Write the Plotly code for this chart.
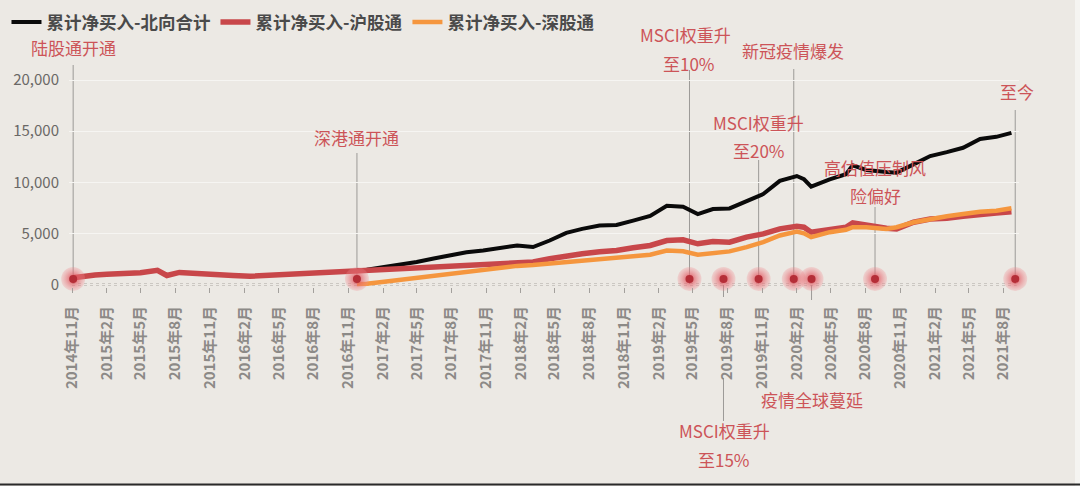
import plotly.graph_objects as go

# ---------------- data (亿元) ----------------
dates_early = ["2014-11-04", "2014-12-01", "2015-01-01", "2015-02-01", "2015-03-25",
               "2015-05-01", "2015-06-15", "2015-07-10", "2015-08-12", "2015-10-01",
               "2015-11-15", "2016-01-01", "2016-02-15", "2016-04-01", "2016-06-01",
               "2016-08-01", "2016-09-15", "2016-11-07"]
sh_early = [650, 820, 930, 1000, 1060, 1150, 1390, 880, 1180, 1120,
            1000, 880, 800, 880, 1000, 1200, 1290, 1360]

dates_late = ["2016-11-24", "2016-12-20", "2017-02-04", "2017-03-20", "2017-05-01",
              "2017-06-15", "2017-07-28", "2017-09-10", "2017-10-24", "2017-12-05",
              "2018-01-22", "2018-03-05", "2018-04-18", "2018-06-01", "2018-07-13",
              "2018-08-28", "2018-10-12", "2018-11-25", "2019-01-09", "2019-02-22",
              "2019-04-06", "2019-05-15", "2019-06-24", "2019-08-07", "2019-09-21",
              "2019-11-04", "2019-12-18", "2020-02-01", "2020-02-20", "2020-03-10",
              "2020-04-28", "2020-06-10", "2020-06-28", "2020-08-03", "2020-09-25",
              "2020-10-22", "2020-12-06", "2021-01-19", "2021-03-04", "2021-04-16",
              "2021-05-31", "2021-07-13", "2021-08-22"]
north_late = [1420, 1450, 1720, 1950, 2200, 2550, 2850, 3150, 3330, 3550,
              3820, 3660, 4300, 5050, 5440, 5760, 5820, 6250, 6700, 7700,
              7600, 6890, 7380, 7440, 8190, 8840, 10130, 10610, 10290, 9580,
              10290, 10780, 11650, 11200, 11000, 10940, 11750, 12560, 12950, 13370,
              14240, 14440, 14830]
sh_late = [1360, 1380, 1420, 1480, 1580, 1700, 1820, 1880, 1940, 2020,
           2140, 2200, 2520, 2800, 3010, 3200, 3330, 3600, 3820, 4300,
           4370, 3980, 4200, 4140, 4630, 4950, 5440, 5700, 5600, 5120,
           5370, 5600, 6020, 5760, 5500, 5440, 6090, 6410, 6470, 6670,
           6890, 6990, 7120]
sz_late = [60, 80, 260, 450, 650, 850, 1070, 1280, 1490, 1650,
           1820, 1900, 2040, 2200, 2360, 2480, 2590, 2750, 2910, 3330,
           3250, 2910, 3110, 3240, 3660, 4140, 4790, 5180, 5000, 4630,
           5120, 5350, 5600, 5600, 5440, 5600, 6090, 6410, 6670, 6890,
           7120, 7220, 7450]

series_names = ["累计净买入-北向合计", "累计净买入-沪股通", "累计净买入-深股通"]

tick_dates = ["2014-11-01", "2015-02-01", "2015-05-01", "2015-08-01", "2015-11-01",
              "2016-02-01", "2016-05-01", "2016-08-01", "2016-11-01", "2017-02-01",
              "2017-05-01", "2017-08-01", "2017-11-01", "2018-02-01", "2018-05-01",
              "2018-08-01", "2018-11-01", "2019-02-01", "2019-05-01", "2019-08-01",
              "2019-11-01", "2020-02-01", "2020-05-01", "2020-08-01", "2020-11-01",
              "2021-02-01", "2021-05-01", "2021-08-01"]
tick_labels = ["2014年11月", "2015年2月", "2015年5月", "2015年8月", "2015年11月",
               "2016年2月", "2016年5月", "2016年8月", "2016年11月", "2017年2月",
               "2017年5月", "2017年8月", "2017年11月", "2018年2月", "2018年5月",
               "2018年8月", "2018年11月", "2019年2月", "2019年5月", "2019年8月",
               "2019年11月", "2020年2月", "2020年5月", "2020年8月", "2020年11月",
               "2021年2月", "2021年5月", "2021年8月"]

# event markers
event_dates = ["2014-11-04", "2016-11-24", "2019-04-23", "2019-07-22", "2019-10-23",
               "2020-01-24", "2020-03-11", "2020-08-26", "2021-09-01"]
event_marker_value = [550] * len(event_dates)

# ---------------- layout geometry ----------------
W, H = 1080, 486
ML, MR, MT, MB = 69, 61, 67, 199
PLOT_H = H - MT - MB
Y0_PX, Y20K_PX = 284.5, 80.0
PX_PER_UNIT = (Y0_PX - Y20K_PX) / 20000
YMIN = -((H - MB) - Y0_PX) / PX_PER_UNIT
YMAX = (Y0_PX - MT) / PX_PER_UNIT


def py(px):
    """page pixel row -> paper fraction"""
    return (H - MB - px) / PLOT_H


def px_x(px):
    return (px - ML) / (W - ML - MR)


BG = "#ece9e4"
ANN = "#cc5458"
FONT = "Noto Sans CJK SC"

fig = go.Figure()

fig.add_trace(go.Scatter(x=dates_late, y=north_late, name=series_names[0], mode="lines",
                         line=dict(color="#0a0a0a", width=4)))
fig.add_trace(go.Scatter(x=dates_early + dates_late, y=sh_early + sh_late, name=series_names[1],
                         mode="lines", line=dict(color="#c8474a", width=5.5)))
fig.add_trace(go.Scatter(x=dates_late, y=sz_late, name=series_names[2], mode="lines",
                         line=dict(color="#f5963e", width=4.5)))

# glowing event dots
fig.add_trace(go.Scatter(x=event_dates, y=event_marker_value, mode="markers", showlegend=False,
                         hoverinfo="skip", cliponaxis=False,
                         marker=dict(size=24, color="rgba(240,140,145,0.25)",
                                     gradient=dict(type="radial", color="rgba(220,70,80,0.95)"),
                                     line=dict(width=0))))
fig.add_trace(go.Scatter(x=event_dates, y=event_marker_value, mode="markers", showlegend=False,
                         hoverinfo="skip", cliponaxis=False,
                         marker=dict(size=8, color="#b52e37", line=dict(width=0))))

shapes = []
# dotted zero axis
shapes.append(dict(type="line", xref="x", yref="y", x0="2014-11-01", x1="2021-09-05", y0=0, y1=0,
                   line=dict(color="#a9a5a0", width=2, dash="dot"), layer="below"))

# event guide lines: (date, list of (top_px, bottom_px))
guide_lines = [
    ("2014-11-04", [(65, Y0_PX)]),
    ("2016-11-24", [(153, Y0_PX)]),
    ("2019-04-23", [(70, Y0_PX)]),
    ("2019-07-22", [(Y0_PX, 297), (378, 421)]),
    ("2019-10-23", [(160, Y0_PX)]),
    ("2020-01-24", [(69, Y0_PX)]),
    ("2020-03-11", [(Y0_PX, 300)]),
    ("2020-08-26", [(207, Y0_PX)]),
    ("2021-09-01", [(110, Y0_PX)]),
]
for d, segs in guide_lines:
    for a, b in segs:
        shapes.append(dict(type="line", xref="x", yref="paper", x0=d, x1=d, y0=py(a), y1=py(b),
                           line=dict(color="#9c9a97", width=1), layer="below"))

# right light strip and bottom border of the screenshot
shapes.append(dict(type="rect", xref="paper", yref="paper", x0=px_x(1075), x1=px_x(1081),
                   y0=py(486), y1=py(0), fillcolor="#f5f4f1", line=dict(width=0), layer="below"))
shapes.append(dict(type="line", xref="paper", yref="paper", x0=px_x(0), x1=px_x(1080),
                   y0=py(484.5), y1=py(484.5), line=dict(color="#2a2a2a", width=2)))

# event labels: (date, text, y_px, xshift)
labels = [
    ("2014-11-04", "陆股通开通", 48, 0),
    ("2016-11-24", "深港通开通", 137, 0),
    ("2019-04-23", "MSCI权重升", 34, -4),
    ("2019-04-23", "至10%", 63, 0),
    ("2019-07-22", "MSCI权重升", 430, 1),
    ("2019-07-22", "至15%", 459, 1),
    ("2019-10-23", "MSCI权重升", 122, 0),
    ("2019-10-23", "至20%", 150, 0),
    ("2020-01-24", "新冠疫情爆发", 51, -1),
    ("2020-03-11", "疫情全球蔓延", 399, 0),
    ("2020-08-26", "高估值压制风", 167, 0),
    ("2020-08-26", "险偏好", 195, 0),
    ("2021-09-01", "至今", 91, 2),
]
annotations = []
for d, t, ypx, xs in labels:
    annotations.append(dict(x=d, xref="x", y=py(ypx), yref="paper", text=t, showarrow=False,
                            xanchor="center", yanchor="middle", xshift=xs,
                            font=dict(family=FONT, size=17, color=ANN)))

fig.update_layout(
    width=W, height=H,
    margin=dict(l=ML, r=MR, t=MT, b=MB, pad=0),
    paper_bgcolor=BG, plot_bgcolor=BG,
    font=dict(family=FONT),
    showlegend=True,
    legend=dict(orientation="h", xref="container", yref="container", x=0.006, y=1 - 22 / H,
                xanchor="left", yanchor="middle", bgcolor="rgba(0,0,0,0)",
                font=dict(family=FONT, size=17.5, color="#4a4a4a", weight="bold"),
                itemwidth=30, tracegroupgap=0),
    xaxis=dict(type="date", range=["2014-10-24", "2021-09-11"], tickmode="array",
               tickvals=tick_dates, ticktext=tick_labels, tickangle=-90,
               ticks="outside", ticklen=5, tickwidth=1, tickcolor="#a3a09c",
               tickfont=dict(family=FONT, size=15, color="#8c8a87", weight="bold"),
               ticklabelstandoff=7,
               showgrid=False, zeroline=False, showline=False),
    yaxis=dict(range=[YMIN, YMAX], tickmode="array", tickvals=[0, 5000, 10000, 15000, 20000],
               ticktext=["0", "5,000", "10,000", "15,000", "20,000"],
               tickfont=dict(family=FONT, size=15, color="#6a6866"),
               ticks="", ticklabelstandoff=9,
               showgrid=True, gridcolor="#f6f5f2", gridwidth=1,
               zeroline=True, zerolinecolor=BG, zerolinewidth=1, showline=False),
    shapes=shapes,
    annotations=annotations,
)

fig.write_html("out.html")
